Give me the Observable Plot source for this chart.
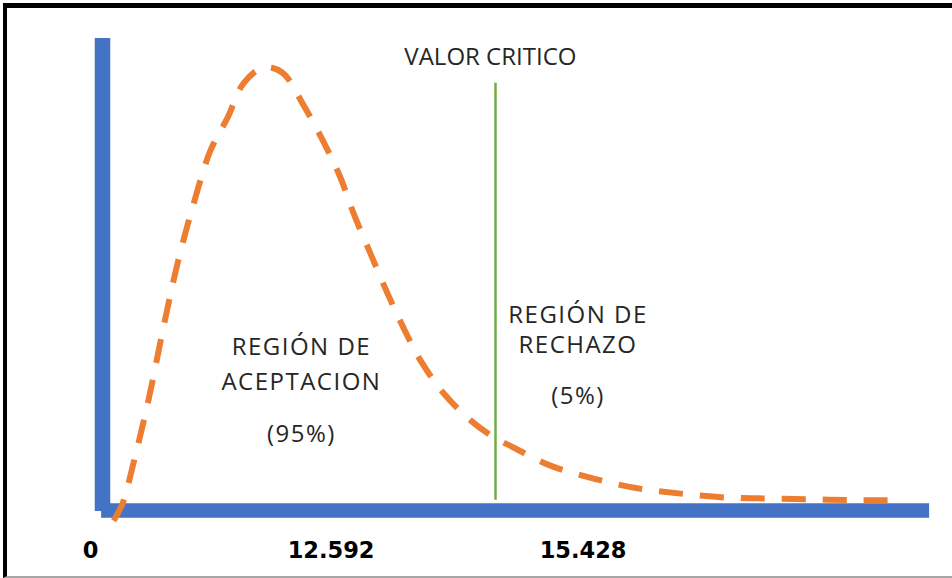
<!DOCTYPE html>
<html>
<head>
<meta charset="utf-8">
<script src="https://cdn.jsdelivr.net/npm/d3@7"></script>
<script src="https://cdn.jsdelivr.net/npm/@observablehq/plot@0.6"></script>
<style>
  html, body { margin: 0; padding: 0; background: #fff; }
  #wrap { position: relative; width: 952px; height: 578px; overflow: hidden; }
  #frame { position: absolute; left: 3px; top: 3px; width: 949px; height: 575px;
           border-top: 5px solid #000; border-left: 4px solid #000; border-bottom: 2px solid #a6a6a6;
           box-sizing: border-box; pointer-events: none; }
  #wrap svg { position: absolute; left: 0; top: 0; }
</style>
</head>
<body>
<div id="wrap"><div id="frame"></div></div>
<script>
// Curve (x in horizontal units, y relative to peak height)
const curveX = [0.37, 0.67, 1.03, 1.53, 2.03, 2.50, 3.00, 3.60, 4.17, 4.70, 5.37, 6.00, 6.70, 7.43, 7.93, 8.37, 8.93, 9.50, 10.03, 10.60, 11.37, 12.27, 13.07, 13.70, 14.93, 16.37, 17.83, 19.27, 20.83, 22.27, 23.83, 25.27, 26.17];
const curveY = [-0.023, 0.016, 0.106, 0.248, 0.412, 0.556, 0.682, 0.811, 0.885, 0.962, 0.998, 0.986, 0.913, 0.822, 0.750, 0.669, 0.579, 0.489, 0.412, 0.338, 0.264, 0.203, 0.164, 0.142, 0.101, 0.072, 0.050, 0.038, 0.029, 0.027, 0.025, 0.023, 0.023];

// Critical value line
const criticalX = [13.1];
const criticalY = [0.023, 0.962];

// Axis extents
const axisXExtent = [-0.03, 27.57];
const axisYExtent = [-0.002, 1.063];

// Annotations
const noteText = ["VALOR CRITICO", "REGIÓN DE", "ACEPTACION", "(95%)", "REGIÓN DE", "RECHAZO", "(5%)"];
const noteX    = [12.93, 6.63, 6.63, 6.63, 15.85, 15.85, 15.85];
const noteY    = [1.021, 0.367, 0.289, 0.171, 0.44, 0.372, 0.257];

// Tick labels
const tickText = ["0", "12.592", "15.428"];
const tickX    = [-0.4, 7.62, 16.02];
const tickY    = [-0.09, -0.09, -0.09];

const curve = curveX.map((x, i) => ({x, y: curveY[i]}));
const notes = noteText.map((t, i) => ({t, x: noteX[i], y: noteY[i]}));
const ticks = tickText.map((t, i) => ({t, x: tickX[i], y: tickY[i]}));

const chart = Plot.plot({
  width: 952,
  height: 578,
  marginTop: 0, marginRight: 0, marginBottom: 0, marginLeft: 0,
  style: {background: "transparent", overflow: "visible"},
  x: {domain: [0, 27.5], range: [102, 927], axis: null},
  y: {domain: [0, 1], range: [510, 66], axis: null},
  marks: [
    Plot.ruleX([0], {y1: axisYExtent[0], y2: axisYExtent[1], stroke: "#4472C4", strokeWidth: 15.5}),
    Plot.ruleY([0], {x1: axisXExtent[0], x2: axisXExtent[1], stroke: "#4472C4", strokeWidth: 14.5}),
    Plot.line(curve, {x: "x", y: "y", curve: "catmull-rom", stroke: "#ED7D31", strokeWidth: 6, strokeDasharray: "24,17", strokeLinecap: "butt"}),
    Plot.ruleX(criticalX, {y1: criticalY[0], y2: criticalY[1], stroke: "#70AD47", strokeWidth: 2.5}),
    Plot.text(notes, {x: "x", y: "y", text: "t", fontSize: 24, fill: "#262626", fontFamily: "Open Sans"}),
    Plot.text(ticks, {x: "x", y: "y", text: "t", fontSize: 22.5, fontWeight: "bold", fill: "#000", fontFamily: "DejaVu Sans"})
  ]
});

d3.select(chart).selectAll("text")
  .filter(function() { return noteText.includes(this.textContent) && this.textContent !== "VALOR CRITICO"; })
  .style("letter-spacing", "1.5px");
document.getElementById("wrap").prepend(chart);
</script>
</body>
</html>
